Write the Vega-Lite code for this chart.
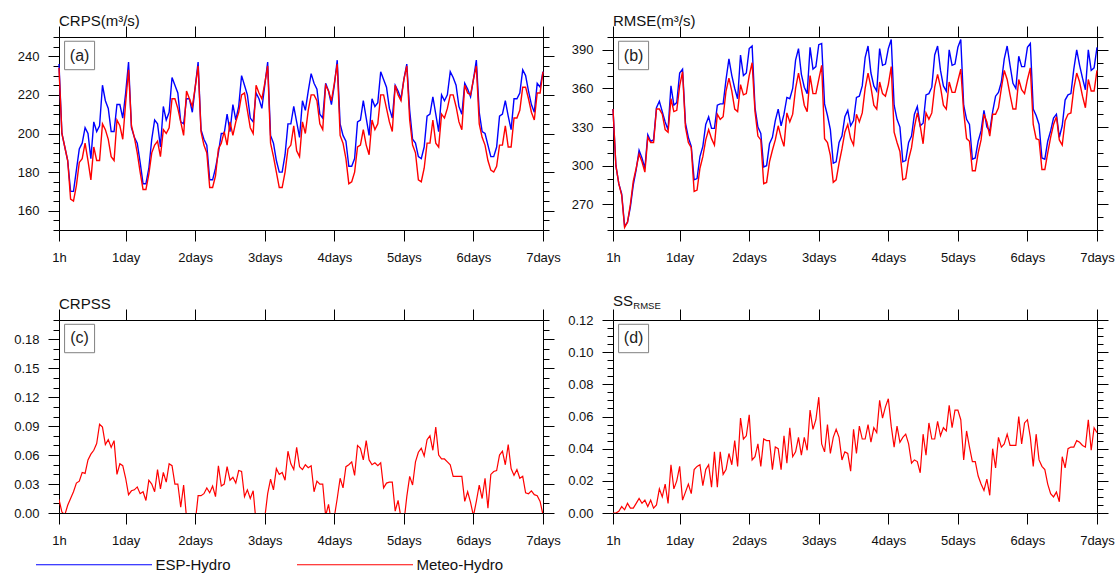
{
"$schema":"https://vega.github.io/schema/vega-lite/v6.json",
"padding":{"left":13,"top":13,"right":0,"bottom":0},
"background":"white",
"data":{"values":[
{"h":1,"m":"ESP-Hydro","a":236,"b":344},{"h":1,"m":"Meteo-Hydro","a":234,"b":344,"c":0.014,"d":0},
{"h":2,"m":"ESP-Hydro","a":200,"b":300},{"h":2,"m":"Meteo-Hydro","a":200,"b":300,"c":0.001,"d":0},
{"h":3,"m":"ESP-Hydro","a":193,"b":286},{"h":3,"m":"Meteo-Hydro","a":193,"b":286,"c":-0.002,"d":0.001},
{"h":4,"m":"ESP-Hydro","a":186,"b":278},{"h":4,"m":"Meteo-Hydro","a":186,"b":277,"c":0.008,"d":0.004},
{"h":5,"m":"ESP-Hydro","a":170,"b":253},{"h":5,"m":"Meteo-Hydro","a":166,"b":252,"c":0.015,"d":0.002},
{"h":6,"m":"ESP-Hydro","a":170,"b":256},{"h":6,"m":"Meteo-Hydro","a":165,"b":256,"c":0.022,"d":0.006},
{"h":7,"m":"ESP-Hydro","a":181,"b":268},{"h":7,"m":"Meteo-Hydro","a":173,"b":270,"c":0.031,"d":0.003},
{"h":8,"m":"ESP-Hydro","a":192,"b":285},{"h":8,"m":"Meteo-Hydro","a":185,"b":288,"c":0.033,"d":0.003},
{"h":9,"m":"ESP-Hydro","a":195,"b":297},{"h":9,"m":"Meteo-Hydro","a":187,"b":298,"c":0.042,"d":0.006},
{"h":10,"m":"ESP-Hydro","a":203,"b":312},{"h":10,"m":"Meteo-Hydro","a":195,"b":309,"c":0.041,"d":0.009},
{"h":11,"m":"ESP-Hydro","a":200,"b":306},{"h":11,"m":"Meteo-Hydro","a":186,"b":303,"c":0.055,"d":0.006},
{"h":12,"m":"ESP-Hydro","a":187,"b":298},{"h":12,"m":"Meteo-Hydro","a":176,"b":295,"c":0.061,"d":0.008},
{"h":13,"m":"ESP-Hydro","a":206,"b":324},{"h":13,"m":"Meteo-Hydro","a":193,"b":322,"c":0.065,"d":0.004},
{"h":14,"m":"ESP-Hydro","a":201,"b":319},{"h":14,"m":"Meteo-Hydro","a":186,"b":318,"c":0.072,"d":0.008},
{"h":15,"m":"ESP-Hydro","a":204,"b":320},{"h":15,"m":"Meteo-Hydro","a":186,"b":318,"c":0.092,"d":0.003},
{"h":16,"m":"ESP-Hydro","a":225,"b":345},{"h":16,"m":"Meteo-Hydro","a":205,"b":344,"c":0.089,"d":0.005},
{"h":17,"m":"ESP-Hydro","a":217,"b":350},{"h":17,"m":"Meteo-Hydro","a":202,"b":344,"c":0.071,"d":0.015},
{"h":18,"m":"ESP-Hydro","a":213,"b":342},{"h":18,"m":"Meteo-Hydro","a":197,"b":340,"c":0.076,"d":0.010},
{"h":19,"m":"ESP-Hydro","a":201,"b":334},{"h":19,"m":"Meteo-Hydro","a":188,"b":328,"c":0.068,"d":0.018},
{"h":20,"m":"ESP-Hydro","a":201,"b":328},{"h":20,"m":"Meteo-Hydro","a":186,"b":326,"c":0.075,"d":0.006},
{"h":21,"m":"ESP-Hydro","a":215,"b":362},{"h":21,"m":"Meteo-Hydro","a":207,"b":352,"c":0.040,"d":0.030},
{"h":22,"m":"ESP-Hydro","a":215,"b":347},{"h":22,"m":"Meteo-Hydro","a":204,"b":342,"c":0.051,"d":0.015},
{"h":23,"m":"ESP-Hydro","a":208,"b":349},{"h":23,"m":"Meteo-Hydro","a":197,"b":343,"c":0.049,"d":0.020},
{"h":24,"m":"ESP-Hydro","a":221,"b":372},{"h":24,"m":"Meteo-Hydro","a":216,"b":362,"c":0.036,"d":0.029},
{"h":25,"m":"ESP-Hydro","a":237,"b":375},{"h":25,"m":"Meteo-Hydro","a":233,"b":373,"c":0.019,"d":0.008},
{"h":26,"m":"ESP-Hydro","a":203,"b":333},{"h":26,"m":"Meteo-Hydro","a":204,"b":330,"c":0.023,"d":0.013},
{"h":27,"m":"ESP-Hydro","a":198,"b":322},{"h":27,"m":"Meteo-Hydro","a":198,"b":318,"c":0.024,"d":0.018},
{"h":28,"m":"ESP-Hydro","a":195,"b":315},{"h":28,"m":"Meteo-Hydro","a":190,"b":314,"c":0.027,"d":0.012},
{"h":29,"m":"ESP-Hydro","a":185,"b":289},{"h":29,"m":"Meteo-Hydro","a":180,"b":280,"c":0.020,"d":0.027},
{"h":30,"m":"ESP-Hydro","a":174,"b":290},{"h":30,"m":"Meteo-Hydro","a":171,"b":281,"c":0.022,"d":0.029},
{"h":31,"m":"ESP-Hydro","a":174,"b":307},{"h":31,"m":"Meteo-Hydro","a":171,"b":298,"c":0.013,"d":0.030},
{"h":32,"m":"ESP-Hydro","a":182,"b":315},{"h":32,"m":"Meteo-Hydro","a":179,"b":307,"c":0.034,"d":0.017},
{"h":33,"m":"ESP-Hydro","a":197,"b":332},{"h":33,"m":"Meteo-Hydro","a":190,"b":320,"c":0.030,"d":0.027},
{"h":34,"m":"ESP-Hydro","a":207,"b":338},{"h":34,"m":"Meteo-Hydro","a":194,"b":328,"c":0.022,"d":0.030},
{"h":35,"m":"ESP-Hydro","a":205,"b":329},{"h":35,"m":"Meteo-Hydro","a":196,"b":321,"c":0.045,"d":0.016},
{"h":36,"m":"ESP-Hydro","a":193,"b":329},{"h":36,"m":"Meteo-Hydro","a":188,"b":316,"c":0.025,"d":0.038},
{"h":37,"m":"ESP-Hydro","a":214,"b":347},{"h":37,"m":"Meteo-Hydro","a":202,"b":340,"c":0.042,"d":0.016},
{"h":38,"m":"ESP-Hydro","a":207,"b":348},{"h":38,"m":"Meteo-Hydro","a":200,"b":336,"c":0.032,"d":0.038},
{"h":39,"m":"ESP-Hydro","a":211,"b":348},{"h":39,"m":"Meteo-Hydro","a":203,"b":338,"c":0.051,"d":0.024},
{"h":40,"m":"ESP-Hydro","a":229,"b":367},{"h":40,"m":"Meteo-Hydro","a":218,"b":358,"c":0.049,"d":0.027},
{"h":41,"m":"ESP-Hydro","a":225,"b":383},{"h":41,"m":"Meteo-Hydro","a":218,"b":368,"c":0.030,"d":0.037},
{"h":42,"m":"ESP-Hydro","a":221,"b":370},{"h":42,"m":"Meteo-Hydro","a":213,"b":358,"c":0.030,"d":0.030},
{"h":43,"m":"ESP-Hydro","a":206,"b":360},{"h":43,"m":"Meteo-Hydro","a":206,"b":344,"c":0.006,"d":0.045},
{"h":44,"m":"ESP-Hydro","a":205,"b":352},{"h":44,"m":"Meteo-Hydro","a":199,"b":342,"c":0.029,"d":0.029},
{"h":45,"m":"ESP-Hydro","a":218,"b":386},{"h":45,"m":"Meteo-Hydro","a":222,"b":363,"c":-0.005,"d":0.059},
{"h":46,"m":"ESP-Hydro","a":218,"b":370},{"h":46,"m":"Meteo-Hydro","a":218,"b":355,"c":-0.02,"d":0.046},
{"h":47,"m":"ESP-Hydro","a":211,"b":372},{"h":47,"m":"Meteo-Hydro","a":214,"b":356,"c":-0.02,"d":0.048},
{"h":48,"m":"ESP-Hydro","a":224,"b":391},{"h":48,"m":"Meteo-Hydro","a":224,"b":370,"c":-0.01,"d":0.061},
{"h":49,"m":"ESP-Hydro","a":237,"b":393},{"h":49,"m":"Meteo-Hydro","a":235,"b":380,"c":0.018,"d":0.033},
{"h":50,"m":"ESP-Hydro","a":202,"b":345},{"h":50,"m":"Meteo-Hydro","a":201,"b":342,"c":0.018,"d":0.035},
{"h":51,"m":"ESP-Hydro","a":197,"b":330},{"h":51,"m":"Meteo-Hydro","a":194,"b":323,"c":0.020,"d":0.043},
{"h":52,"m":"ESP-Hydro","a":194,"b":325},{"h":52,"m":"Meteo-Hydro","a":190,"b":320,"c":0.026,"d":0.029},
{"h":53,"m":"ESP-Hydro","a":176,"b":299},{"h":53,"m":"Meteo-Hydro","a":172,"b":286,"c":0.021,"d":0.046},
{"h":54,"m":"ESP-Hydro","a":176,"b":300},{"h":54,"m":"Meteo-Hydro","a":172,"b":287,"c":0.028,"d":0.045},
{"h":55,"m":"ESP-Hydro","a":182,"b":317},{"h":55,"m":"Meteo-Hydro","a":178,"b":303,"c":0.017,"d":0.045},
{"h":56,"m":"ESP-Hydro","a":190,"b":322},{"h":56,"m":"Meteo-Hydro","a":192,"b":312,"c":0.049,"d":0.027},
{"h":57,"m":"ESP-Hydro","a":200,"b":335},{"h":57,"m":"Meteo-Hydro","a":195,"b":320,"c":0.028,"d":0.041},
{"h":58,"m":"ESP-Hydro","a":200,"b":344},{"h":58,"m":"Meteo-Hydro","a":201,"b":331,"c":0.030,"d":0.040},
{"h":59,"m":"ESP-Hydro","a":210,"b":331},{"h":59,"m":"Meteo-Hydro","a":194,"b":322,"c":0.048,"d":0.027},
{"h":60,"m":"ESP-Hydro","a":201,"b":340},{"h":60,"m":"Meteo-Hydro","a":206,"b":315,"c":0.034,"d":0.048},
{"h":61,"m":"ESP-Hydro","a":215,"b":353},{"h":61,"m":"Meteo-Hydro","a":199,"b":341,"c":0.037,"d":0.031},
{"h":62,"m":"ESP-Hydro","a":207,"b":352},{"h":62,"m":"Meteo-Hydro","a":206,"b":334,"c":0.031,"d":0.053},
{"h":63,"m":"ESP-Hydro","a":214,"b":360},{"h":63,"m":"Meteo-Hydro","a":211,"b":340,"c":0.044,"d":0.035},
{"h":64,"m":"ESP-Hydro","a":230,"b":382},{"h":64,"m":"Meteo-Hydro","a":220,"b":360,"c":0.043,"d":0.038},
{"h":65,"m":"ESP-Hydro","a":225,"b":391},{"h":65,"m":"Meteo-Hydro","a":221,"b":372,"c":0.017,"d":0.047},
{"h":66,"m":"ESP-Hydro","a":220,"b":371},{"h":66,"m":"Meteo-Hydro","a":212,"b":360,"c":0.024,"d":0.036},
{"h":67,"m":"ESP-Hydro","a":208,"b":361},{"h":67,"m":"Meteo-Hydro","a":203,"b":347,"c":0.015,"d":0.047},
{"h":68,"m":"ESP-Hydro","a":206,"b":356},{"h":68,"m":"Meteo-Hydro","a":200,"b":342,"c":0.023,"d":0.039},
{"h":69,"m":"ESP-Hydro","a":221,"b":392},{"h":69,"m":"Meteo-Hydro","a":225,"b":370,"c":-0.01,"d":0.064},
{"h":70,"m":"ESP-Hydro","a":218,"b":375},{"h":70,"m":"Meteo-Hydro","a":221,"b":356,"c":-0.02,"d":0.052},
{"h":71,"m":"ESP-Hydro","a":213,"b":377},{"h":71,"m":"Meteo-Hydro","a":218,"b":356,"c":-0.02,"d":0.058},
{"h":72,"m":"ESP-Hydro","a":225,"b":394},{"h":72,"m":"Meteo-Hydro","a":226,"b":367,"c":-0.005,"d":0.072},
{"h":73,"m":"ESP-Hydro","a":237,"b":395},{"h":73,"m":"Meteo-Hydro","a":235,"b":378,"c":0.020,"d":0.043},
{"h":74,"m":"ESP-Hydro","a":199,"b":348},{"h":74,"m":"Meteo-Hydro","a":195,"b":321,"c":0.035,"d":0.038},
{"h":75,"m":"ESP-Hydro","a":195,"b":339},{"h":75,"m":"Meteo-Hydro","a":188,"b":318,"c":0.024,"d":0.055},
{"h":76,"m":"ESP-Hydro","a":186,"b":328},{"h":76,"m":"Meteo-Hydro","a":180,"b":308,"c":0.046,"d":0.037},
{"h":77,"m":"ESP-Hydro","a":180,"b":302},{"h":77,"m":"Meteo-Hydro","a":172,"b":287,"c":0.040,"d":0.047},
{"h":78,"m":"ESP-Hydro","a":180,"b":303},{"h":78,"m":"Meteo-Hydro","a":172,"b":289,"c":0.042,"d":0.052},
{"h":79,"m":"ESP-Hydro","a":189,"b":318},{"h":79,"m":"Meteo-Hydro","a":180,"b":302,"c":0.034,"d":0.047},
{"h":80,"m":"ESP-Hydro","a":205,"b":323},{"h":80,"m":"Meteo-Hydro","a":192,"b":313,"c":0.064,"d":0.033},
{"h":81,"m":"ESP-Hydro","a":205,"b":338},{"h":81,"m":"Meteo-Hydro","a":194,"b":326,"c":0.051,"d":0.038},
{"h":82,"m":"ESP-Hydro","a":214,"b":343},{"h":82,"m":"Meteo-Hydro","a":204,"b":332,"c":0.045,"d":0.037},
{"h":83,"m":"ESP-Hydro","a":206,"b":331},{"h":83,"m":"Meteo-Hydro","a":191,"b":321,"c":0.068,"d":0.026},
{"h":84,"m":"ESP-Hydro","a":198,"b":335},{"h":84,"m":"Meteo-Hydro","a":188,"b":316,"c":0.048,"d":0.052},
{"h":85,"m":"ESP-Hydro","a":217,"b":353},{"h":85,"m":"Meteo-Hydro","a":206,"b":340,"c":0.045,"d":0.037},
{"h":86,"m":"ESP-Hydro","a":212,"b":354},{"h":86,"m":"Meteo-Hydro","a":200,"b":334,"c":0.050,"d":0.054},
{"h":87,"m":"ESP-Hydro","a":222,"b":362},{"h":87,"m":"Meteo-Hydro","a":212,"b":341,"c":0.047,"d":0.046},
{"h":88,"m":"ESP-Hydro","a":231,"b":384},{"h":88,"m":"Meteo-Hydro","a":220,"b":360,"c":0.049,"d":0.046},
{"h":89,"m":"ESP-Hydro","a":226,"b":393},{"h":89,"m":"Meteo-Hydro","a":220,"b":372,"c":0.022,"d":0.055},
{"h":90,"m":"ESP-Hydro","a":223,"b":372},{"h":90,"m":"Meteo-Hydro","a":217,"b":361,"c":0.033,"d":0.044},
{"h":91,"m":"ESP-Hydro","a":210,"b":362},{"h":91,"m":"Meteo-Hydro","a":205,"b":347,"c":0.030,"d":0.053},
{"h":92,"m":"ESP-Hydro","a":208,"b":358},{"h":92,"m":"Meteo-Hydro","a":202,"b":344,"c":0.030,"d":0.050},
{"h":93,"m":"ESP-Hydro","a":226,"b":391},{"h":93,"m":"Meteo-Hydro","a":225,"b":365,"c":-0.003,"d":0.070},
{"h":94,"m":"ESP-Hydro","a":222,"b":378},{"h":94,"m":"Meteo-Hydro","a":222,"b":356,"c":0.009,"d":0.059},
{"h":95,"m":"ESP-Hydro","a":215,"b":379},{"h":95,"m":"Meteo-Hydro","a":217,"b":354,"c":-0.01,"d":0.066},
{"h":96,"m":"ESP-Hydro","a":225,"b":391},{"h":96,"m":"Meteo-Hydro","a":226,"b":363,"c":-0.004,"d":0.071},
{"h":97,"m":"ESP-Hydro","a":238,"b":398},{"h":97,"m":"Meteo-Hydro","a":236,"b":377,"c":0.015,"d":0.054},
{"h":98,"m":"ESP-Hydro","a":205,"b":347},{"h":98,"m":"Meteo-Hydro","a":199,"b":326,"c":0.036,"d":0.041},
{"h":99,"m":"ESP-Hydro","a":199,"b":336},{"h":99,"m":"Meteo-Hydro","a":195,"b":318,"c":0.026,"d":0.054},
{"h":100,"m":"ESP-Hydro","a":196,"b":330},{"h":100,"m":"Meteo-Hydro","a":187,"b":311,"c":0.048,"d":0.044},
{"h":101,"m":"ESP-Hydro","a":183,"b":303},{"h":101,"m":"Meteo-Hydro","a":174,"b":289,"c":0.050,"d":0.047},
{"h":102,"m":"ESP-Hydro","a":183,"b":304},{"h":102,"m":"Meteo-Hydro","a":175,"b":290,"c":0.053,"d":0.049},
{"h":103,"m":"ESP-Hydro","a":187,"b":318},{"h":103,"m":"Meteo-Hydro","a":180,"b":305,"c":0.039,"d":0.043},
{"h":104,"m":"ESP-Hydro","a":206,"b":323},{"h":104,"m":"Meteo-Hydro","a":193,"b":314,"c":0.070,"d":0.031},
{"h":105,"m":"ESP-Hydro","a":207,"b":340},{"h":105,"m":"Meteo-Hydro","a":194,"b":330,"c":0.067,"d":0.033},
{"h":106,"m":"ESP-Hydro","a":217,"b":346},{"h":106,"m":"Meteo-Hydro","a":202,"b":341,"c":0.055,"d":0.032},
{"h":107,"m":"ESP-Hydro","a":208,"b":331},{"h":107,"m":"Meteo-Hydro","a":194,"b":331,"c":0.075,"d":0.025},
{"h":108,"m":"ESP-Hydro","a":199,"b":333},{"h":108,"m":"Meteo-Hydro","a":189,"b":317,"c":0.055,"d":0.049},
{"h":109,"m":"ESP-Hydro","a":218,"b":355},{"h":109,"m":"Meteo-Hydro","a":207,"b":341,"c":0.050,"d":0.036},
{"h":110,"m":"ESP-Hydro","a":214,"b":356},{"h":110,"m":"Meteo-Hydro","a":202,"b":336,"c":0.052,"d":0.056},
{"h":111,"m":"ESP-Hydro","a":216,"b":361},{"h":111,"m":"Meteo-Hydro","a":205,"b":341,"c":0.049,"d":0.046},
{"h":112,"m":"ESP-Hydro","a":232,"b":386},{"h":112,"m":"Meteo-Hydro","a":220,"b":361,"c":0.052,"d":0.046},
{"h":113,"m":"ESP-Hydro","a":228,"b":393},{"h":113,"m":"Meteo-Hydro","a":220,"b":371,"c":0.026,"d":0.057},
{"h":114,"m":"ESP-Hydro","a":224,"b":374},{"h":114,"m":"Meteo-Hydro","a":213,"b":361,"c":0.031,"d":0.048},
{"h":115,"m":"ESP-Hydro","a":213,"b":362},{"h":115,"m":"Meteo-Hydro","a":206,"b":347,"c":0.032,"d":0.053},
{"h":116,"m":"ESP-Hydro","a":208,"b":358},{"h":116,"m":"Meteo-Hydro","a":201,"b":344,"c":0.032,"d":0.051},
{"h":117,"m":"ESP-Hydro","a":225,"b":390},{"h":117,"m":"Meteo-Hydro","a":225,"b":365,"c":0.002,"d":0.067},
{"h":118,"m":"ESP-Hydro","a":222,"b":378},{"h":118,"m":"Meteo-Hydro","a":220,"b":357,"c":0.013,"d":0.053},
{"h":119,"m":"ESP-Hydro","a":218,"b":379},{"h":119,"m":"Meteo-Hydro","a":217,"b":357,"c":-0.005,"d":0.064},
{"h":120,"m":"ESP-Hydro","a":228,"b":392},{"h":120,"m":"Meteo-Hydro","a":228,"b":366,"c":-0.01,"d":0.064},
{"h":121,"m":"ESP-Hydro","a":236,"b":398},{"h":121,"m":"Meteo-Hydro","a":235,"b":375,"c":0.017,"d":0.058},
{"h":122,"m":"ESP-Hydro","a":212,"b":347},{"h":122,"m":"Meteo-Hydro","a":207,"b":342,"c":0.038,"d":0.033},
{"h":123,"m":"ESP-Hydro","a":197,"b":336},{"h":123,"m":"Meteo-Hydro","a":194,"b":321,"c":0.029,"d":0.051},
{"h":124,"m":"ESP-Hydro","a":195,"b":332},{"h":124,"m":"Meteo-Hydro","a":190,"b":319,"c":0.053,"d":0.041},
{"h":125,"m":"ESP-Hydro","a":188,"b":305},{"h":125,"m":"Meteo-Hydro","a":176,"b":296,"c":0.063,"d":0.032},
{"h":126,"m":"ESP-Hydro","a":187,"b":306},{"h":126,"m":"Meteo-Hydro","a":175,"b":296,"c":0.067,"d":0.032},
{"h":127,"m":"ESP-Hydro","a":193,"b":319},{"h":127,"m":"Meteo-Hydro","a":182,"b":310,"c":0.059,"d":0.023},
{"h":128,"m":"ESP-Hydro","a":209,"b":327},{"h":128,"m":"Meteo-Hydro","a":195,"b":320,"c":0.076,"d":0.018},
{"h":129,"m":"ESP-Hydro","a":210,"b":343},{"h":129,"m":"Meteo-Hydro","a":195,"b":340,"c":0.080,"d":0.014},
{"h":130,"m":"ESP-Hydro","a":219,"b":330},{"h":130,"m":"Meteo-Hydro","a":207,"b":334,"c":0.065,"d":0.021},
{"h":131,"m":"ESP-Hydro","a":210,"b":327},{"h":131,"m":"Meteo-Hydro","a":195,"b":323,"c":0.089,"d":0.011},
{"h":132,"m":"ESP-Hydro","a":201,"b":342},{"h":132,"m":"Meteo-Hydro","a":193,"b":340,"c":0.060,"d":0.040},
{"h":133,"m":"ESP-Hydro","a":220,"b":354},{"h":133,"m":"Meteo-Hydro","a":210,"b":340,"c":0.056,"d":0.028},
{"h":134,"m":"ESP-Hydro","a":217,"b":357},{"h":134,"m":"Meteo-Hydro","a":208,"b":345,"c":0.056,"d":0.047},
{"h":135,"m":"ESP-Hydro","a":220,"b":365},{"h":135,"m":"Meteo-Hydro","a":213,"b":360,"c":0.053,"d":0.041},
{"h":136,"m":"ESP-Hydro","a":232,"b":383},{"h":136,"m":"Meteo-Hydro","a":220,"b":374,"c":0.050,"d":0.043},
{"h":137,"m":"ESP-Hydro","a":229,"b":393},{"h":137,"m":"Meteo-Hydro","a":220,"b":367,"c":0.038,"d":0.049},
{"h":138,"m":"ESP-Hydro","a":225,"b":378},{"h":138,"m":"Meteo-Hydro","a":214,"b":355,"c":0.038,"d":0.042},
{"h":139,"m":"ESP-Hydro","a":214,"b":364},{"h":139,"m":"Meteo-Hydro","a":206,"b":344,"c":0.038,"d":0.042},
{"h":140,"m":"ESP-Hydro","a":210,"b":360},{"h":140,"m":"Meteo-Hydro","a":202,"b":344,"c":0.038,"d":0.042},
{"h":141,"m":"ESP-Hydro","a":226,"b":385},{"h":141,"m":"Meteo-Hydro","a":225,"b":367,"c":0.012,"d":0.060},
{"h":142,"m":"ESP-Hydro","a":223,"b":377},{"h":142,"m":"Meteo-Hydro","a":221,"b":359,"c":0.022,"d":0.043},
{"h":143,"m":"ESP-Hydro","a":219,"b":377},{"h":143,"m":"Meteo-Hydro","a":220,"b":356,"c":0.011,"d":0.056},
{"h":144,"m":"ESP-Hydro","a":228,"b":392},{"h":144,"m":"Meteo-Hydro","a":228,"b":367,"c":-0.003,"d":0.058},
{"h":145,"m":"ESP-Hydro","a":238,"b":395},{"h":145,"m":"Meteo-Hydro","a":235,"b":376,"c":0.012,"d":0.047},
{"h":146,"m":"ESP-Hydro","a":211,"b":344},{"h":146,"m":"Meteo-Hydro","a":205,"b":332,"c":0.029,"d":0.029},
{"h":147,"m":"ESP-Hydro","a":201,"b":339},{"h":147,"m":"Meteo-Hydro","a":198,"b":321,"c":0.015,"d":0.049},
{"h":148,"m":"ESP-Hydro","a":200,"b":332},{"h":148,"m":"Meteo-Hydro","a":194,"b":320,"c":0.036,"d":0.033},
{"h":149,"m":"ESP-Hydro","a":194,"b":306},{"h":149,"m":"Meteo-Hydro","a":186,"b":297,"c":0.005,"d":0.029},
{"h":150,"m":"ESP-Hydro","a":188,"b":305},{"h":150,"m":"Meteo-Hydro","a":181,"b":297,"c":0.040,"d":0.027},
{"h":151,"m":"ESP-Hydro","a":188,"b":319},{"h":151,"m":"Meteo-Hydro","a":180,"b":310,"c":0.043,"d":0.018},
{"h":152,"m":"ESP-Hydro","a":193,"b":327},{"h":152,"m":"Meteo-Hydro","a":183,"b":322,"c":0.044,"d":0.012},
{"h":153,"m":"ESP-Hydro","a":209,"b":337},{"h":153,"m":"Meteo-Hydro","a":194,"b":332,"c":0.060,"d":0.010},
{"h":154,"m":"ESP-Hydro","a":210,"b":340},{"h":154,"m":"Meteo-Hydro","a":194,"b":338,"c":0.064,"d":0.013},
{"h":155,"m":"ESP-Hydro","a":217,"b":322},{"h":155,"m":"Meteo-Hydro","a":204,"b":320,"c":0.050,"d":0.007},
{"h":156,"m":"ESP-Hydro","a":209,"b":331},{"h":156,"m":"Meteo-Hydro","a":193,"b":316,"c":0.071,"d":0.035},
{"h":157,"m":"ESP-Hydro","a":202,"b":351},{"h":157,"m":"Meteo-Hydro","a":193,"b":335,"c":0.046,"d":0.028},
{"h":158,"m":"ESP-Hydro","a":218,"b":355},{"h":158,"m":"Meteo-Hydro","a":208,"b":340,"c":0.039,"d":0.040},
{"h":159,"m":"ESP-Hydro","a":218,"b":356},{"h":159,"m":"Meteo-Hydro","a":208,"b":341,"c":0.045,"d":0.041},
{"h":160,"m":"ESP-Hydro","a":221,"b":375},{"h":160,"m":"Meteo-Hydro","a":212,"b":360,"c":0.036,"d":0.041},
{"h":161,"m":"ESP-Hydro","a":233,"b":390},{"h":161,"m":"Meteo-Hydro","a":224,"b":372,"c":0.038,"d":0.045},
{"h":162,"m":"ESP-Hydro","a":230,"b":378},{"h":162,"m":"Meteo-Hydro","a":224,"b":365,"c":0.021,"d":0.044},
{"h":163,"m":"ESP-Hydro","a":222,"b":368},{"h":163,"m":"Meteo-Hydro","a":218,"b":354,"c":0.020,"d":0.042},
{"h":164,"m":"ESP-Hydro","a":215,"b":359},{"h":164,"m":"Meteo-Hydro","a":211,"b":345,"c":0.023,"d":0.041},
{"h":165,"m":"ESP-Hydro","a":211,"b":390},{"h":165,"m":"Meteo-Hydro","a":207,"b":367,"c":0.019,"d":0.058},
{"h":166,"m":"ESP-Hydro","a":226,"b":374},{"h":166,"m":"Meteo-Hydro","a":221,"b":358,"c":0.018,"d":0.039},
{"h":167,"m":"ESP-Hydro","a":224,"b":376},{"h":167,"m":"Meteo-Hydro","a":221,"b":358,"c":0.012,"d":0.053},
{"h":168,"m":"ESP-Hydro","a":232,"b":392},{"h":168,"m":"Meteo-Hydro","a":232,"b":374,"c":-0.002,"d":0.050}
]},
"columns":2,
"spacing":{"row":90,"column":70},
"bounds":"flush",
"concat":[
{
 "width":484,"height":193,
 "title":{"text":"CRPS(m³/s)","anchor":"start","frame":"group","offset":-15,"baseline":"alphabetic"},
 "layer":[
  {"mark":{"type":"line","strokeWidth":1.4},
   "encoding":{
    "x":{"field":"h","type":"quantitative","scale":{"domain":[1,168],"nice":false,"zero":false},"axis":{"orient":"bottom","values":[1,24,48,72,96,120,144,168],"labelExpr":"datum.value==1?'1h':datum.value==24?'1day':(datum.value/24)+'days'","tickSize":11,"labelPadding":10,"title":null,"labelFlush":false,"labelOverlap":false,"labelBound":false}},
    "y":{"field":"a","type":"quantitative","scale":{"domain":[150,250],"nice":false,"zero":false},"axis":{"orient":"left","values":[160,180,200,220,240],"tickSize":11,"labelPadding":9,"title":null,"labelFlush":false,"labelOverlap":false}},
    "color":{"field":"m","type":"nominal","scale":{"domain":["ESP-Hydro","Meteo-Hydro"],"range":["#0000ff","#ff0000"]},"legend":{"orient":"none","legendX":-24,"legendY":520,"direction":"horizontal","title":null,"symbolType":"M-10,0H10","symbolSize":134.56,"symbolStrokeWidth":1.2,"symbolOffset":51.5,"labelOffset":54,"columnPadding":63,"labelFontSize":15,"labelFont":"Liberation Sans","labelColor":"#111","padding":0}}
   }},
  {"mark":{"type":"line","opacity":0},
   "encoding":{
    "x":{"field":"h","type":"quantitative","scale":{"domain":[1,168],"nice":false,"zero":false},"axis":{"orient":"top","values":[1,24,48,72,96,120,144,168],"labels":false,"tickSize":11,"title":null}},
    "y":{"field":"a","type":"quantitative","scale":{"domain":[150,250],"nice":false,"zero":false},"axis":{"orient":"right","values":[160,180,200,220,240],"labels":false,"tickSize":11,"title":null}}
   }},
  {"mark":{"type":"line","opacity":0},
   "encoding":{
    "x":{"field":"h","type":"quantitative","axis":null},
    "y":{"field":"a","type":"quantitative","scale":{"domain":[150,250],"nice":false,"zero":false},"axis":{"orient":"left","values":[150,155,165,170,175,185,190,195,205,210,215,225,230,235,245,250],"labels":false,"tickSize":6,"title":null}}
   }},
  {"mark":{"type":"line","opacity":0},
   "encoding":{
    "x":{"field":"h","type":"quantitative","axis":null},
    "y":{"field":"a","type":"quantitative","scale":{"domain":[150,250],"nice":false,"zero":false},"axis":{"orient":"right","values":[150,155,165,170,175,185,190,195,205,210,215,225,230,235,245,250],"labels":false,"tickSize":6,"title":null}}
   }},
  {"data":{"values":[{}]},
   "mark":{"type":"rect","fill":"white","stroke":"#808080","strokeWidth":1},
   "encoding":{"x":{"datum":2.93,"type":"quantitative","axis":null},"x2":{"datum":13.28},"y":{"datum":247.8,"type":"quantitative","axis":null},"y2":{"datum":233.06}}},
  {"data":{"values":[{}]},
   "mark":{"type":"text","text":"(a)","fontSize":16,"color":"#222","align":"center","baseline":"middle"},
   "encoding":{"x":{"datum":8.11,"type":"quantitative","axis":null},"y":{"datum":240.4,"type":"quantitative","axis":null}}}
 ],
 "resolve":{"axis":{"x":"independent","y":"independent"}}
},
{
 "width":484,"height":193,
 "title":{"text":"RMSE(m³/s)","anchor":"start","frame":"group","offset":-15,"baseline":"alphabetic"},
 "layer":[
  {"mark":{"type":"line","strokeWidth":1.4},
   "encoding":{
    "x":{"field":"h","type":"quantitative","scale":{"domain":[1,168],"nice":false,"zero":false},"axis":{"orient":"bottom","values":[1,24,48,72,96,120,144,168],"labelExpr":"datum.value==1?'1h':datum.value==24?'1day':(datum.value/24)+'days'","tickSize":11,"labelPadding":10,"title":null,"labelFlush":false,"labelOverlap":false,"labelBound":false}},
    "y":{"field":"b","type":"quantitative","scale":{"domain":[250,400],"nice":false,"zero":false},"axis":{"orient":"left","values":[270,300,330,360,390],"tickSize":11,"labelPadding":9,"title":null,"labelFlush":false,"labelOverlap":false}},
    "color":{"field":"m","type":"nominal","scale":{"domain":["ESP-Hydro","Meteo-Hydro"],"range":["#0000ff","#ff0000"]},"legend":{"orient":"none","legendX":-24,"legendY":520,"direction":"horizontal","title":null,"symbolType":"M-10,0H10","symbolSize":134.56,"symbolStrokeWidth":1.2,"symbolOffset":51.5,"labelOffset":54,"columnPadding":63,"labelFontSize":15,"labelFont":"Liberation Sans","labelColor":"#111","padding":0}}
   }},
  {"mark":{"type":"line","opacity":0},
   "encoding":{
    "x":{"field":"h","type":"quantitative","scale":{"domain":[1,168],"nice":false,"zero":false},"axis":{"orient":"top","values":[1,24,48,72,96,120,144,168],"labels":false,"tickSize":11,"title":null}},
    "y":{"field":"b","type":"quantitative","scale":{"domain":[250,400],"nice":false,"zero":false},"axis":{"orient":"right","values":[270,300,330,360,390],"labels":false,"tickSize":11,"title":null}}
   }},
  {"mark":{"type":"line","opacity":0},
   "encoding":{
    "x":{"field":"h","type":"quantitative","axis":null},
    "y":{"field":"b","type":"quantitative","scale":{"domain":[250,400],"nice":false,"zero":false},"axis":{"orient":"left","values":[250,260,280,290,310,320,340,350,370,380,400],"labels":false,"tickSize":6,"title":null}}
   }},
  {"mark":{"type":"line","opacity":0},
   "encoding":{
    "x":{"field":"h","type":"quantitative","axis":null},
    "y":{"field":"b","type":"quantitative","scale":{"domain":[250,400],"nice":false,"zero":false},"axis":{"orient":"right","values":[250,260,280,290,310,320,340,350,370,380,400],"labels":false,"tickSize":6,"title":null}}
   }},
  {"data":{"values":[{}]},
   "mark":{"type":"rect","fill":"white","stroke":"#808080","strokeWidth":1},
   "encoding":{"x":{"datum":2.93,"type":"quantitative","axis":null},"x2":{"datum":13.28},"y":{"datum":396.7,"type":"quantitative","axis":null},"y2":{"datum":374.6}}},
  {"data":{"values":[{}]},
   "mark":{"type":"text","text":"(b)","fontSize":16,"color":"#222","align":"center","baseline":"middle"},
   "encoding":{"x":{"datum":8.11,"type":"quantitative","axis":null},"y":{"datum":385.6,"type":"quantitative","axis":null}}}
 ],
 "resolve":{"axis":{"x":"independent","y":"independent"}}
},
{
 "width":484,"height":193,
 "title":{"text":"CRPSS","anchor":"start","frame":"group","offset":-15,"baseline":"alphabetic"},
 "layer":[
  {"transform":[{"filter":{"field":"m","equal":"Meteo-Hydro"}}],
   "mark":{"type":"line","strokeWidth":1.2,"clip":true},
   "encoding":{
    "x":{"field":"h","type":"quantitative","scale":{"domain":[1,168],"nice":false,"zero":false},"axis":{"orient":"bottom","values":[1,24,48,72,96,120,144,168],"labelExpr":"datum.value==1?'1h':datum.value==24?'1day':(datum.value/24)+'days'","tickSize":11,"labelPadding":10,"title":null,"labelFlush":false,"labelOverlap":false,"labelBound":false}},
    "y":{"field":"c","type":"quantitative","scale":{"domain":[0,0.2],"nice":false,"zero":false},"axis":{"orient":"left","values":[0,0.03,0.06,0.09,0.12,0.15,0.18],"format":".2f","tickSize":11,"labelPadding":9,"title":null,"labelFlush":false,"labelOverlap":false}},
    "color":{"field":"m","type":"nominal","scale":{"domain":["ESP-Hydro","Meteo-Hydro"],"range":["#0000ff","#ff0000"]},"legend":{"orient":"none","legendX":-24,"legendY":520,"direction":"horizontal","title":null,"symbolType":"M-10,0H10","symbolSize":134.56,"symbolStrokeWidth":1.2,"symbolOffset":51.5,"labelOffset":54,"columnPadding":63,"labelFontSize":15,"labelFont":"Liberation Sans","labelColor":"#111","padding":0}}
   }},
  {"transform":[{"filter":{"field":"m","equal":"Meteo-Hydro"}}],
   "mark":{"type":"line","opacity":0},
   "encoding":{
    "x":{"field":"h","type":"quantitative","scale":{"domain":[1,168],"nice":false,"zero":false},"axis":{"orient":"top","values":[1,24,48,72,96,120,144,168],"labels":false,"tickSize":11,"title":null}},
    "y":{"field":"c","type":"quantitative","scale":{"domain":[0,0.2],"nice":false,"zero":false},"axis":{"orient":"right","values":[0,0.03,0.06,0.09,0.12,0.15,0.18],"labels":false,"tickSize":11,"title":null}}
   }},
  {"transform":[{"filter":{"field":"m","equal":"Meteo-Hydro"}}],
   "mark":{"type":"line","opacity":0},
   "encoding":{
    "x":{"field":"h","type":"quantitative","axis":null},
    "y":{"field":"c","type":"quantitative","scale":{"domain":[0,0.2],"nice":false,"zero":false},"axis":{"orient":"left","values":[0.01,0.02,0.04,0.05,0.07,0.08,0.1,0.11,0.13,0.14,0.16,0.17,0.19,0.2],"labels":false,"tickSize":6,"title":null}}
   }},
  {"transform":[{"filter":{"field":"m","equal":"Meteo-Hydro"}}],
   "mark":{"type":"line","opacity":0},
   "encoding":{
    "x":{"field":"h","type":"quantitative","axis":null},
    "y":{"field":"c","type":"quantitative","scale":{"domain":[0,0.2],"nice":false,"zero":false},"axis":{"orient":"right","values":[0.01,0.02,0.04,0.05,0.07,0.08,0.1,0.11,0.13,0.14,0.16,0.17,0.19,0.2],"labels":false,"tickSize":6,"title":null}}
   }},
  {"data":{"values":[{}]},
   "mark":{"type":"rect","fill":"white","stroke":"#808080","strokeWidth":1},
   "encoding":{"x":{"datum":2.93,"type":"quantitative","axis":null},"x2":{"datum":13.28},"y":{"datum":0.19554,"type":"quantitative","axis":null},"y2":{"datum":0.16611}}},
  {"data":{"values":[{}]},
   "mark":{"type":"text","text":"(c)","fontSize":16,"color":"#222","align":"center","baseline":"middle"},
   "encoding":{"x":{"datum":8.11,"type":"quantitative","axis":null},"y":{"datum":0.18083,"type":"quantitative","axis":null}}}
 ],
 "resolve":{"axis":{"x":"independent","y":"independent"}}
},
{
 "width":484,"height":193,
 "layer":[
  {"transform":[{"filter":{"field":"m","equal":"Meteo-Hydro"}}],
   "mark":{"type":"line","strokeWidth":1.2,"clip":true},
   "encoding":{
    "x":{"field":"h","type":"quantitative","scale":{"domain":[1,168],"nice":false,"zero":false},"axis":{"orient":"bottom","values":[1,24,48,72,96,120,144,168],"labelExpr":"datum.value==1?'1h':datum.value==24?'1day':(datum.value/24)+'days'","tickSize":11,"labelPadding":10,"title":null,"labelFlush":false,"labelOverlap":false,"labelBound":false}},
    "y":{"field":"d","type":"quantitative","scale":{"domain":[0,0.12],"nice":false,"zero":false},"axis":{"orient":"left","values":[0,0.02,0.04,0.06,0.08,0.1,0.12],"format":".2f","tickSize":11,"labelPadding":9,"title":null,"labelFlush":false,"labelOverlap":false}},
    "color":{"field":"m","type":"nominal","scale":{"domain":["ESP-Hydro","Meteo-Hydro"],"range":["#0000ff","#ff0000"]},"legend":{"orient":"none","legendX":-24,"legendY":520,"direction":"horizontal","title":null,"symbolType":"M-10,0H10","symbolSize":134.56,"symbolStrokeWidth":1.2,"symbolOffset":51.5,"labelOffset":54,"columnPadding":63,"labelFontSize":15,"labelFont":"Liberation Sans","labelColor":"#111","padding":0}}
   }},
  {"transform":[{"filter":{"field":"m","equal":"Meteo-Hydro"}}],
   "mark":{"type":"line","opacity":0},
   "encoding":{
    "x":{"field":"h","type":"quantitative","scale":{"domain":[1,168],"nice":false,"zero":false},"axis":{"orient":"top","values":[1,24,48,72,96,120,144,168],"labels":false,"tickSize":11,"title":null}},
    "y":{"field":"d","type":"quantitative","scale":{"domain":[0,0.12],"nice":false,"zero":false},"axis":{"orient":"right","values":[0,0.02,0.04,0.06,0.08,0.1,0.12],"labels":false,"tickSize":11,"title":null}}
   }},
  {"transform":[{"filter":{"field":"m","equal":"Meteo-Hydro"}}],
   "mark":{"type":"line","opacity":0},
   "encoding":{
    "x":{"field":"h","type":"quantitative","axis":null},
    "y":{"field":"d","type":"quantitative","scale":{"domain":[0,0.12],"nice":false,"zero":false},"axis":{"orient":"left","values":[0.005,0.01,0.015,0.025,0.03,0.035,0.045,0.05,0.055,0.065,0.07,0.075,0.085,0.09,0.095,0.105,0.11,0.115],"labels":false,"tickSize":6,"title":null}}
   }},
  {"transform":[{"filter":{"field":"m","equal":"Meteo-Hydro"}}],
   "mark":{"type":"line","opacity":0},
   "encoding":{
    "x":{"field":"h","type":"quantitative","axis":null},
    "y":{"field":"d","type":"quantitative","scale":{"domain":[0,0.12],"nice":false,"zero":false},"axis":{"orient":"right","values":[0.005,0.01,0.015,0.025,0.03,0.035,0.045,0.05,0.055,0.065,0.07,0.075,0.085,0.09,0.095,0.105,0.11,0.115],"labels":false,"tickSize":6,"title":null}}
   }},
  {"data":{"values":[{}]},
   "mark":{"type":"rect","fill":"white","stroke":"#808080","strokeWidth":1},
   "encoding":{"x":{"datum":2.93,"type":"quantitative","axis":null},"x2":{"datum":13.28},"y":{"datum":0.11733,"type":"quantitative","axis":null},"y2":{"datum":0.09967}}},
  {"data":{"values":[{}]},
   "mark":{"type":"text","text":"(d)","fontSize":16,"color":"#222","align":"center","baseline":"middle"},
   "encoding":{"x":{"datum":8.11,"type":"quantitative","axis":null},"y":{"datum":0.1085,"type":"quantitative","axis":null}}},
  {"data":{"values":[{}]},
   "mark":{"type":"text","text":"SS","fontSize":15,"color":"#111","align":"left","baseline":"alphabetic"},
   "encoding":{"x":{"datum":1,"type":"quantitative","axis":null},"y":{"datum":0.1287,"type":"quantitative","axis":null}}},
  {"data":{"values":[{}]},
   "mark":{"type":"text","text":"RMSE","fontSize":9.5,"color":"#111","align":"left","baseline":"alphabetic"},
   "encoding":{"x":{"datum":8.0,"type":"quantitative","axis":null},"y":{"datum":0.1268,"type":"quantitative","axis":null}}}
 ],
 "resolve":{"axis":{"x":"independent","y":"independent"}}
}
],
"config":{
 "font":"Liberation Sans",
 "view":{"stroke":"#000","strokeWidth":1},
 "axis":{"tickColor":"#000","tickWidth":1,"labelColor":"#111","labelFont":"Liberation Sans","labelFontSize":13,"grid":false,"domain":false},
 "title":{"fontSize":15,"fontWeight":"normal","font":"Liberation Sans","color":"#111"},
 "text":{"font":"Liberation Sans"}
}
}
